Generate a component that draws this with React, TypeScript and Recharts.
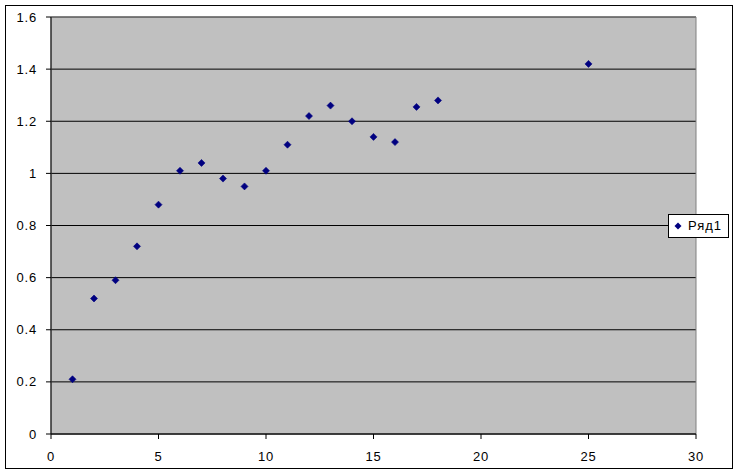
import {
  CartesianGrid,
  Legend,
  ReferenceArea,
  Scatter,
  ScatterChart,
  XAxis,
  YAxis,
} from 'recharts';

const seriesName = 'Ряд1';
const xValues = [1, 2, 3, 4, 5, 6, 7, 8, 9, 10, 11, 12, 13, 14, 15, 16, 17, 18, 25];
const yValues = [
  0.21, 0.52, 0.59, 0.72, 0.88, 1.01, 1.04, 0.98, 0.95, 1.01,
  1.11, 1.22, 1.26, 1.2, 1.14, 1.12, 1.255, 1.28, 1.42,
];
const xTicks = [0, 5, 10, 15, 20, 25, 30];
const yTicks = [0, 0.2, 0.4, 0.6, 0.8, 1, 1.2, 1.4, 1.6];

const points = xValues.map((x, i) => ({ x, y: yValues[i] }));

const FONT = '"Liberation Sans", Arial, sans-serif';
const MARKER = '#000080';

const Diamond = (props: any) => {
  const { cx, cy } = props;
  const r = 3.5;
  return (
    <polygon
      points={`${cx},${cy - r} ${cx + r},${cy} ${cx},${cy + r} ${cx - r},${cy}`}
      fill={MARKER}
      stroke={MARKER}
      strokeWidth={0.6}
    />
  );
};

const tickStyle = { fill: '#000', fontSize: 13, fontFamily: FONT, letterSpacing: 0.8 };

const LegendBox = () => (
  <div
    style={{
      border: '1px solid #000',
      background: '#fff',
      padding: '3px 6px 3px 5px',
      fontFamily: FONT,
      fontSize: 13,
      lineHeight: '16px',
      letterSpacing: 1,
      color: '#000',
      display: 'flex',
      alignItems: 'center',
      whiteSpace: 'nowrap',
    }}
  >
    <svg width={8} height={8} style={{ marginRight: 6 }}>
      <polygon points="4,0.5 7.5,4 4,7.5 0.5,4" fill={MARKER} />
    </svg>
    {seriesName}
  </div>
);

export default function App() {
  return (
    <div style={{ position: 'absolute', left: 0, top: 0, width: 738, height: 473, background: '#fff' }}>
      <div
        style={{
          position: 'absolute',
          left: 5,
          top: 5,
          width: 728,
          height: 464,
          boxSizing: 'border-box',
          border: '1px solid #000',
        }}
      />
      <div style={{ position: 'absolute', left: 0, top: 0 }}>
        <ScatterChart
          width={738}
          height={473}
          margin={{ top: 17, right: 42, bottom: 9, left: 5 }}
        >
          <CartesianGrid
            vertical={false}
            stroke="#000"
            strokeOpacity={1}
            fill="#C0C0C0"
            fillOpacity={1}
          />
          <ReferenceArea
            x1={0}
            x2={30}
            y1={0}
            y2={1.6}
            fill="none"
            stroke="#808080"
            ifOverflow="visible"
          />
          <XAxis
            type="number"
            dataKey="x"
            domain={[0, 30]}
            ticks={xTicks}
            height={30}
            tickSize={5}
            tickMargin={13}
            axisLine={{ stroke: '#000' }}
            tickLine={{ stroke: '#000' }}
            tick={tickStyle}
            interval={0}
          />
          <YAxis
            type="number"
            dataKey="y"
            domain={[0, 1.6]}
            ticks={yTicks}
            width={46}
            tickSize={5}
            tickMargin={9}
            axisLine={{ stroke: '#000' }}
            tickLine={{ stroke: '#000' }}
            tick={tickStyle}
            interval={0}
          />
          <Legend
            align="center"
            verticalAlign="middle"
            content={() => <LegendBox />}
            wrapperStyle={{ left: 668, top: 214, width: 'auto', height: 'auto' }}
          />
          <Scatter
            name={seriesName}
            data={points}
            fill={MARKER}
            shape={Diamond}
            isAnimationActive={false}
          />
        </ScatterChart>
      </div>
    </div>
  );
}
